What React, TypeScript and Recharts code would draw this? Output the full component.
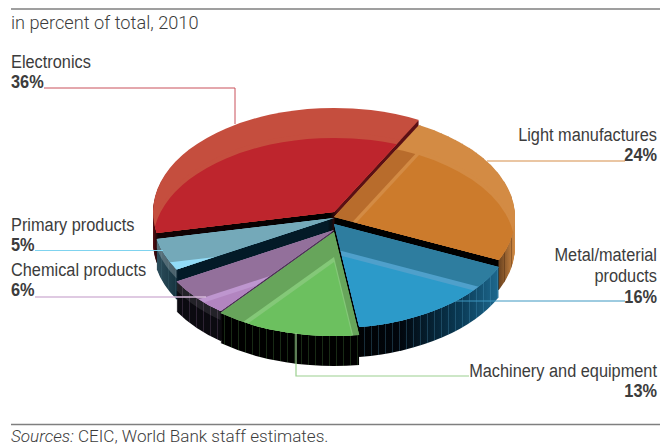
import React from "react";
import { Pie, PieChart, Sector } from "recharts";

// Share of total, 2010, clockwise from the top right of the pie
const categories = [
  "Light manufactures",
  "Metal/material products",
  "Machinery and equipment",
  "Chemical products",
  "Primary products",
  "Electronics",
];
const shares = [24, 16, 13, 6, 5, 36];
const chartData = categories.map((name, i) => ({ name, value: shares[i] }));

// Slices are painted back to front so the nearer ones cover the walls behind them
const paintOrder = [5, 0, 4, 1, 3, 2];

const FLATTEN = 0.575; // vertical squash of the round pie
const DEPTH = 30; // wall height, px
const GLOSS = 30; // how far the main face colour sits below the slice edge
const STRIPE = 25;

type Style = {
  lift: number;
  main: string;
  light: string;
  dark: string;
  stripes: string;
  sheen: string;
  wall: [number, string][];
};

const sliceStyles: Style[] = [
  {
    lift: 5,
    main: "#cc7b2c",
    light: "#d38b44",
    dark: "#b86c2c",
    stripes: "rgba(60,30,5,0.35)",
    sheen: "rgba(255,255,255,0)",
    wall: [[334, "#000000"], [498, "#000000"], [499, "#6b4320"], [516, "#d18a44"]],
  },
  {
    lift: 12,
    main: "#2c9ac9",
    light: "#4fa0cb",
    dark: "#2e7d9f",
    stripes: "rgba(90,170,210,0.25)",
    sheen: "rgba(255,255,255,0)",
    wall: [[340, "#000000"], [400, "#01060c"], [460, "#0a3a55"], [500, "#1e6a90"]],
  },
  {
    lift: 20,
    main: "#6cc05f",
    light: "#84c878",
    dark: "#67a55b",
    stripes: "rgba(110,190,95,0.22)",
    sheen: "rgba(255,255,255,0)",
    wall: [[220, "#000000"], [362, "#000000"]],
  },
  {
    lift: 18,
    main: "#b285c0",
    light: "#be96cf",
    dark: "#93709b",
    stripes: "rgba(180,135,190,0.2)",
    sheen: "rgba(255,255,255,0.1)",
    wall: [[176, "#0b0a10"], [221, "#0b0a10"], [222, "#4f3358"], [334, "#4f3358"]],
  },
  {
    lift: 6,
    main: "#92dcf7",
    light: "#92dcf7",
    dark: "#74a9b9",
    stripes: "rgba(130,190,210,0.1)",
    sheen: "rgba(255,255,255,0.22)",
    wall: [[155, "#2f505e"], [176, "#173541"], [178, "#031a27"], [334, "#031a27"]],
  },
  {
    lift: 0,
    main: "#be252d",
    light: "#c54e3e",
    dark: "#be252d",
    stripes: "rgba(0,0,0,0)",
    sheen: "rgba(255,255,255,0)",
    wall: [[152, "#5c1014"], [158, "#120204"], [330, "#000000"], [338, "#5a1015"], [430, "#5a1015"]],
  },
];

// Arc-shaped band along the outer wall, used for the ribs and the sheen
function wallBand(cx: number, cy: number, r: number, from: number, to: number, depth: number) {
  const pts: string[] = [];
  const back: string[] = [];
  const step = (to - from) / 60;
  for (let i = 0; i <= 60; i++) {
    const a = ((from + step * i) * Math.PI) / 180;
    const x = cx + r * Math.cos(a);
    const y = cy - r * Math.sin(a);
    pts.push(`${x} ${y}`);
    back.unshift(`${x} ${y + depth / FLATTEN}`);
  }
  return `M${pts.join("L")}L${back.join("L")}Z`;
}

function Slice(props: any) {
  const { cx, cy, outerRadius, startAngle, endAngle, index } = props;
  const style = sliceStyles[index];
  const wedge = { cx, innerRadius: 0, outerRadius, startAngle, endAngle };
  const layers = [];
  for (let d = DEPTH; d >= 1; d--) {
    layers.push(
      <Sector key={d} {...wedge} cy={cy + d / FLATTEN} fill={`url(#wall-${index})`} stroke="none" />,
    );
  }
  return (
    <g transform={`translate(0 ${cy + style.lift}) scale(1 ${FLATTEN}) translate(0 ${-cy})`}>
      <defs>
        <linearGradient id={`wall-${index}`} gradientUnits="userSpaceOnUse" x1={cx - outerRadius} x2={cx + outerRadius} y1={0} y2={0}>
          {style.wall.map(([x, color]) => (
            <stop key={x} offset={(x - cx + outerRadius) / (2 * outerRadius)} stopColor={color} />
          ))}
        </linearGradient>
        <pattern id={`ribs-${index}`} patternUnits="userSpaceOnUse" width={7} height={40}>
          <rect x={0} y={0} width={1} height={40} fill={style.stripes} />
        </pattern>
        <clipPath id={`face-${index}`}>
          <Sector {...wedge} cy={cy} />
        </clipPath>
      </defs>
      {layers}
      <path d={wallBand(cx, cy, outerRadius, startAngle, endAngle, DEPTH)} fill={`url(#ribs-${index})`} />
      <path d={wallBand(cx, cy, outerRadius, startAngle, endAngle, 9)} fill={style.sheen} />
      <Sector {...wedge} cy={cy} fill={style.light} stroke="none" />
      <g clipPath={`url(#face-${index})`}>
        <circle cx={cx} cy={cy + GLOSS / FLATTEN} r={outerRadius} fill={style.dark} />
        <Sector {...wedge} cy={cy + STRIPE / FLATTEN} fill={style.light} stroke="none" />
        <Sector {...wedge} cy={cy + GLOSS / FLATTEN} fill={style.main} stroke="none" />
      </g>
    </g>
  );
}

const textColor = "#3c3c3c";
const NARROW = 0.86; // no condensed face is installed, so the labels are squeezed

function Label({ x, y, anchor, lines, share }: { x: number; y: number[]; anchor: "start" | "end"; lines: string[]; share: number }) {
  const rows = [...lines, `${share}%`];
  return (
    <g fontFamily="'Liberation Sans', sans-serif" fontSize={19} fill={textColor} textAnchor={anchor}>
      {rows.map((row, i) => (
        <text
          key={row}
          transform={`translate(${x} ${y[i]}) scale(${NARROW} 1)`}
          fontWeight={i === lines.length ? 700 : 400}
        >
          {row}
        </text>
      ))}
    </g>
  );
}

export default function App() {
  return (
    <div style={{ position: "absolute", left: 0, top: 0, width: 660, height: 445, background: "#fff", overflow: "hidden" }}>
      <div style={{ position: "absolute", left: 0, top: 0 }}>
        <PieChart width={660} height={445} margin={{ top: 0, right: 0, bottom: 0, left: 0 }}>
          {paintOrder.map((sliceIndex) => (
            <Pie
              key={sliceIndex}
              data={chartData}
              dataKey="value"
              nameKey="name"
              cx={334}
              cy={212}
              outerRadius={181}
              startAngle={62}
              endAngle={-298}
              stroke="none"
              isAnimationActive={false}
              shape={(p: any) => (p.index === sliceIndex ? <Slice {...p} /> : <g />)}
            />
          ))}
        </PieChart>
      </div>
      <svg width={660} height={445} style={{ position: "absolute", left: 0, top: 0 }}>
        <line x1={11} x2={660} y1={9} y2={9} stroke="#7f7f7f" strokeWidth={1.5} />
        <line x1={11} x2={660} y1={424.5} y2={424.5} stroke="#7f7f7f" strokeWidth={1.5} />
        <text x={11} y={29} fontFamily="Roboto, sans-serif" fontWeight={300} fontSize={18.2} fill={textColor}>
          in percent of total, 2010
        </text>
        <text x={11} y={442} fontFamily="Roboto, sans-serif" fontWeight={300} fontSize={17.1} fill={textColor}>
          <tspan fontStyle="italic">Sources:</tspan> CEIC, World Bank staff estimates.
        </text>

        <polyline points="44,88 235,88 235,124" fill="none" stroke="#c9505a" strokeWidth={1} />
        <line x1={487} x2={625} y1={161} y2={161} stroke="#e3b384" strokeWidth={1.5} />
        <line x1={455} x2={625} y1={301} y2={301} stroke="#3d97c1" strokeWidth={1} />
        <polyline points="296,333 296,376 469,376" fill="none" stroke="#9bd08f" strokeWidth={1.2} />
        <line x1={35} x2={163} y1={250.5} y2={250.5} stroke="#7fd3ef" strokeWidth={1.2} />
        <line x1={35} x2={206} y1={297} y2={297} stroke="#d4b8d9" strokeWidth={1.5} />

        <Label x={11} y={[68, 88]} anchor="start" lines={["Electronics"]} share={shares[5]} />
        <Label x={11} y={[231, 251]} anchor="start" lines={["Primary products"]} share={shares[4]} />
        <Label x={11} y={[276, 296]} anchor="start" lines={["Chemical products"]} share={shares[3]} />
        <Label x={657} y={[141, 161]} anchor="end" lines={["Light manufactures"]} share={shares[0]} />
        <Label x={657} y={[261, 281.5, 303]} anchor="end" lines={["Metal/material", "products"]} share={shares[1]} />
        <Label x={657} y={[377, 397]} anchor="end" lines={["Machinery and equipment"]} share={shares[2]} />
      </svg>
    </div>
  );
}
